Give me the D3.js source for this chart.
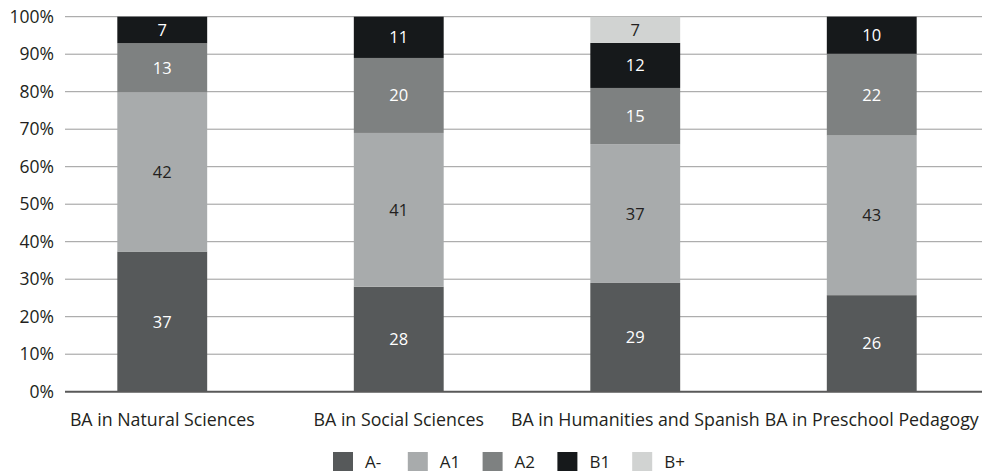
<!DOCTYPE html>
<html>
<head>
<meta charset="utf-8">
<script src="https://cdn.jsdelivr.net/npm/d3@7"></script>
<style>
  html, body { margin: 0; padding: 0; background: #fff; }
  svg { display: block; font-family: "Open Sans", "Noto Sans", sans-serif; }
</style>
</head>
<body>
<svg id="chart" width="982" height="474"></svg>
<script>
// ---- data ----
const categories = ["BA in Natural Sciences", "BA in Social Sciences", "BA in Humanities and Spanish", "BA in Preschool Pedagogy"];
const levels = ["A-", "A1", "A2", "B1", "B+"];
const aMinus = [37, 28, 29, 26];
const a1 = [42, 41, 37, 43];
const a2 = [13, 20, 15, 22];
const b1 = [7, 11, 12, 10];
const bPlus = [0, 0, 7, 0];
const yTicks = [0, 0.1, 0.2, 0.3, 0.4, 0.5, 0.6, 0.7, 0.8, 0.9, 1.0];
const colors = ["#56595a", "#a8abac", "#7e8181", "#16191b", "#d1d3d2"];
const labelColors = ["#ffffff", "#231f20", "#ffffff", "#ffffff", "#231f20"];

const seriesValues = [aMinus, a1, a2, b1, bPlus];
const rows = categories.map((c, i) => {
  const r = { category: c };
  levels.forEach((l, j) => r[l] = seriesValues[j][i]);
  return r;
});

// ---- layout ----
const svg = d3.select("#chart");
const plotLeft = 65, plotRight = 982, plotTop = 16.7, plotBottom = 391.7;

const x = d3.scaleBand()
  .domain(categories)
  .range([44, 990])
  .paddingInner(0.62)
  .paddingOuter(0.31);

const y = d3.scaleLinear().domain([0, 1]).range([plotBottom, plotTop]);

const stack = d3.stack().keys(levels).offset(d3.stackOffsetExpand);
const stacked = stack(rows);

// gridlines
svg.append("g")
  .selectAll("line")
  .data(yTicks.filter(t => t > 0))
  .join("line")
  .attr("x1", plotLeft).attr("x2", plotRight)
  .attr("y1", d => y(d)).attr("y2", d => y(d))
  .attr("stroke", "#9a9a9a")
  .attr("stroke-width", 1);

// y axis labels
const yAxis = d3.axisLeft(y).tickValues(yTicks).tickFormat(d3.format(".0%")).tickSize(0).tickPadding(0);
const yg = svg.append("g").attr("transform", `translate(54,0)`).call(yAxis);
yg.select(".domain").remove();
yg.selectAll("text")
  .attr("fill", "#231f20")
  .style("font-size", "17.5px")
  .style("font-family", '"Open Sans", sans-serif');

// bars
const layers = svg.append("g").selectAll("g")
  .data(stacked)
  .join("g")
  .attr("fill", (d, i) => colors[i]);

layers.selectAll("rect")
  .data(d => d.filter(p => p[1] - p[0] > 0))
  .join("rect")
  .attr("x", d => x(d.data.category))
  .attr("width", x.bandwidth())
  .attr("y", d => y(d[1]))
  .attr("height", d => y(d[0]) - y(d[1]));

// bar labels
stacked.forEach((layer, i) => {
  svg.append("g").selectAll("text")
    .data(layer.filter(p => p[1] - p[0] > 0))
    .join("text")
    .attr("x", d => x(d.data.category) + x.bandwidth() / 2)
    .attr("y", d => (y(d[0]) + y(d[1])) / 2)
    .attr("dy", "0.36em")
    .attr("text-anchor", "middle")
    .attr("fill", labelColors[i])
    .style("font-size", "16.5px")
    .text(d => d.data[layer.key]);
});

// baseline
svg.append("line")
  .attr("x1", plotLeft).attr("x2", plotRight)
  .attr("y1", y(0)).attr("y2", y(0))
  .attr("stroke", "#595959")
  .attr("stroke-width", 2);

// x axis labels
const xAxis = d3.axisBottom(x).tickSize(0).tickPadding(0);
const xg = svg.append("g").attr("transform", `translate(0,${y(0) + 28})`).call(xAxis);
xg.select(".domain").remove();
xg.selectAll("text")
  .attr("fill", "#231f20")
  .attr("dy", "0.36em")
  .style("font-size", "17.8px")
  .style("font-family", '"Open Sans", sans-serif');

// legend
const lx = d3.scaleBand().domain(levels).range([333, 707]);
const legend = svg.append("g").selectAll("g")
  .data(levels)
  .join("g")
  .attr("transform", d => `translate(${lx(d)},452)`);
legend.append("rect")
  .attr("width", 20).attr("height", 19)
  .attr("fill", (d, i) => colors[i]);
legend.append("text")
  .attr("x", 32).attr("y", 10)
  .attr("dy", "0.36em")
  .attr("fill", "#231f20")
  .style("font-size", "17px")
  .text(d => d);
</script>
</body>
</html>
